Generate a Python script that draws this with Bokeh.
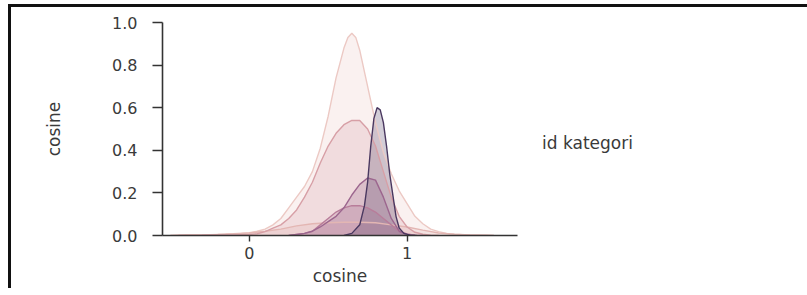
from bokeh.plotting import figure
from bokeh.models import Range1d, FixedTicker, Legend, LegendItem, CustomJSTickFormatter
from bokeh.embed import file_html
from bokeh.resources import INLINE

# KDE curves (x = cosine, y = density)
xa = [-0.5, -0.45, -0.4, -0.35, -0.3, -0.25, -0.2, -0.15, -0.1, -0.05, 0.0, 0.05, 0.1, 0.15, 0.2, 0.25,
      0.3, 0.35, 0.4, 0.45, 0.5, 0.55, 0.6, 0.625, 0.65, 0.675, 0.7, 0.75, 0.8, 0.85, 0.9, 0.95, 1.0, 1.05,
      1.1, 1.15, 1.2, 1.25, 1.3, 1.35, 1.4, 1.45, 1.5, 1.55]
ya = [0.0, 0.001, 0.002, 0.002, 0.003, 0.004, 0.005, 0.006, 0.008, 0.01, 0.013, 0.02, 0.03, 0.05, 0.08, 0.13,
      0.18, 0.23, 0.30, 0.41, 0.56, 0.74, 0.88, 0.93, 0.95, 0.93, 0.87, 0.70, 0.53, 0.39, 0.29, 0.21, 0.15, 0.09,
      0.055, 0.03, 0.018, 0.01, 0.006, 0.004, 0.003, 0.002, 0.001, 0.0]

xf = [-0.5, -0.4, -0.3, -0.2, -0.1, 0.0, 0.1, 0.2, 0.3, 0.4, 0.5, 0.6, 0.7, 0.8, 0.9, 1.0, 1.1, 1.2, 1.3, 1.4, 1.5, 1.55]
yf = [0.0, 0.002, 0.003, 0.005, 0.008, 0.012, 0.02, 0.03, 0.045, 0.055, 0.06, 0.062, 0.062, 0.06, 0.05, 0.04,
      0.025, 0.012, 0.006, 0.003, 0.001, 0.0]

xb = [-0.45, -0.3, -0.2, -0.1, 0.0, 0.05, 0.1, 0.15, 0.2, 0.25, 0.3, 0.35, 0.4, 0.45, 0.5, 0.55, 0.6, 0.65,
      0.7, 0.75, 0.8, 0.85, 0.9, 0.95, 1.0, 1.05, 1.1, 1.15, 1.2]
yb = [0.0, 0.001, 0.002, 0.003, 0.005, 0.008, 0.018, 0.035, 0.05, 0.08, 0.12, 0.18, 0.25, 0.34, 0.42, 0.48,
      0.52, 0.54, 0.54, 0.50, 0.42, 0.30, 0.18, 0.09, 0.04, 0.015, 0.006, 0.002, 0.0]

xe = [0.25, 0.3, 0.35, 0.4, 0.45, 0.5, 0.55, 0.6, 0.65, 0.7, 0.75, 0.8, 0.85, 0.9, 0.95, 1.0, 1.05, 1.1]
ye = [0.0, 0.005, 0.01, 0.02, 0.05, 0.08, 0.11, 0.13, 0.14, 0.14, 0.13, 0.11, 0.08, 0.05, 0.02, 0.007, 0.002, 0.0]

xd = [0.25, 0.3, 0.35, 0.4, 0.45, 0.5, 0.55, 0.6, 0.65, 0.7, 0.75, 0.8, 0.85, 0.9, 0.95, 1.0, 1.05]
yd = [0.0, 0.005, 0.01, 0.02, 0.04, 0.065, 0.09, 0.13, 0.19, 0.24, 0.27, 0.26, 0.18, 0.08, 0.02, 0.004, 0.0]

xc = [0.6, 0.65, 0.7, 0.73, 0.75, 0.77, 0.79, 0.81, 0.83, 0.85, 0.87, 0.89, 0.91, 0.93, 0.95, 0.98, 1.02, 1.06]
yc = [0.0, 0.01, 0.05, 0.14, 0.25, 0.42, 0.55, 0.60, 0.59, 0.53, 0.42, 0.29, 0.19, 0.09, 0.035, 0.01, 0.002, 0.0]

curves = [(xa, ya, "#ecc9c4"), (xf, yf, "#e3b6b3"), (xb, yb, "#d79fa6"),
          (xe, ye, "#b87d9a"), (xd, yd, "#9c668e"), (xc, yc, "#4a3860")]

y_ticks = [0.0, 0.2, 0.4, 0.6, 0.8, 1.0]
x_ticks = [0, 1]
x_label = "cosine"
y_label = "cosine"
legend_title = "id kategori"

FONT = "DejaVu Sans"
TXT = "#3a3a3a"

p = figure(frame_width=355, frame_height=213, output_backend="svg", toolbar_location=None,
           x_range=Range1d(-0.55, 1.70), y_range=Range1d(0.0, 1.0),
           min_border_left=151, min_border_right=282, min_border_top=15, min_border_bottom=52,
           styles={"border-top": "3px solid #111", "border-left": "3px solid #111",
                   "margin-top": "4px", "margin-left": "8px"})
p.outline_line_color = None
p.grid.visible = False
p.background_fill_color = "white"

for xs, ys, col in curves:
    p.varea(x=xs, y1=[0] * len(xs), y2=ys, fill_color=col, fill_alpha=0.25)
for xs, ys, col in curves:
    p.line(x=xs, y=ys, line_color=col, line_width=1.4)

for ax in (p.xaxis[0], p.yaxis[0]):
    ax.axis_line_color = "#333333"
    ax.axis_line_width = 1.6
    ax.major_tick_line_color = "#333333"
    ax.major_tick_line_width = 1.4
    ax.major_tick_in = 0
    ax.minor_tick_line_color = None
    ax.major_label_text_font = FONT
    ax.major_label_text_font_size = "16px"
    ax.major_label_text_color = TXT
    ax.axis_label_text_font = FONT
    ax.axis_label_text_font_size = "17px"
    ax.axis_label_text_color = TXT
    ax.axis_label_text_font_style = "normal"

p.yaxis.ticker = FixedTicker(ticks=y_ticks)
p.yaxis.formatter = CustomJSTickFormatter(code="return tick.toFixed(1);")
p.yaxis.major_tick_out = 10
p.yaxis.major_label_standoff = 15
p.yaxis.axis_label = y_label
p.yaxis.axis_label_standoff = 45

p.xaxis.ticker = FixedTicker(ticks=x_ticks)
p.xaxis.major_tick_out = 6
p.xaxis.major_label_standoff = 5
p.xaxis.axis_label = x_label
p.xaxis.axis_label_standoff = 4

# legend title only (hue legend shows just its title)
dummy = p.scatter(x=[0], y=[0], size=0, fill_alpha=0, line_alpha=0)
leg = Legend(items=[LegendItem(label=legend_title, renderers=[dummy])], location=(25, 82),
             glyph_width=0, glyph_height=18, label_standoff=0, padding=0, margin=0, spacing=0,
             border_line_color=None, background_fill_alpha=0,
             label_text_font=FONT, label_text_font_size="17px", label_text_color=TXT)
p.add_layout(leg, "right")

open("out.html", "w").write(file_html(p, INLINE))
